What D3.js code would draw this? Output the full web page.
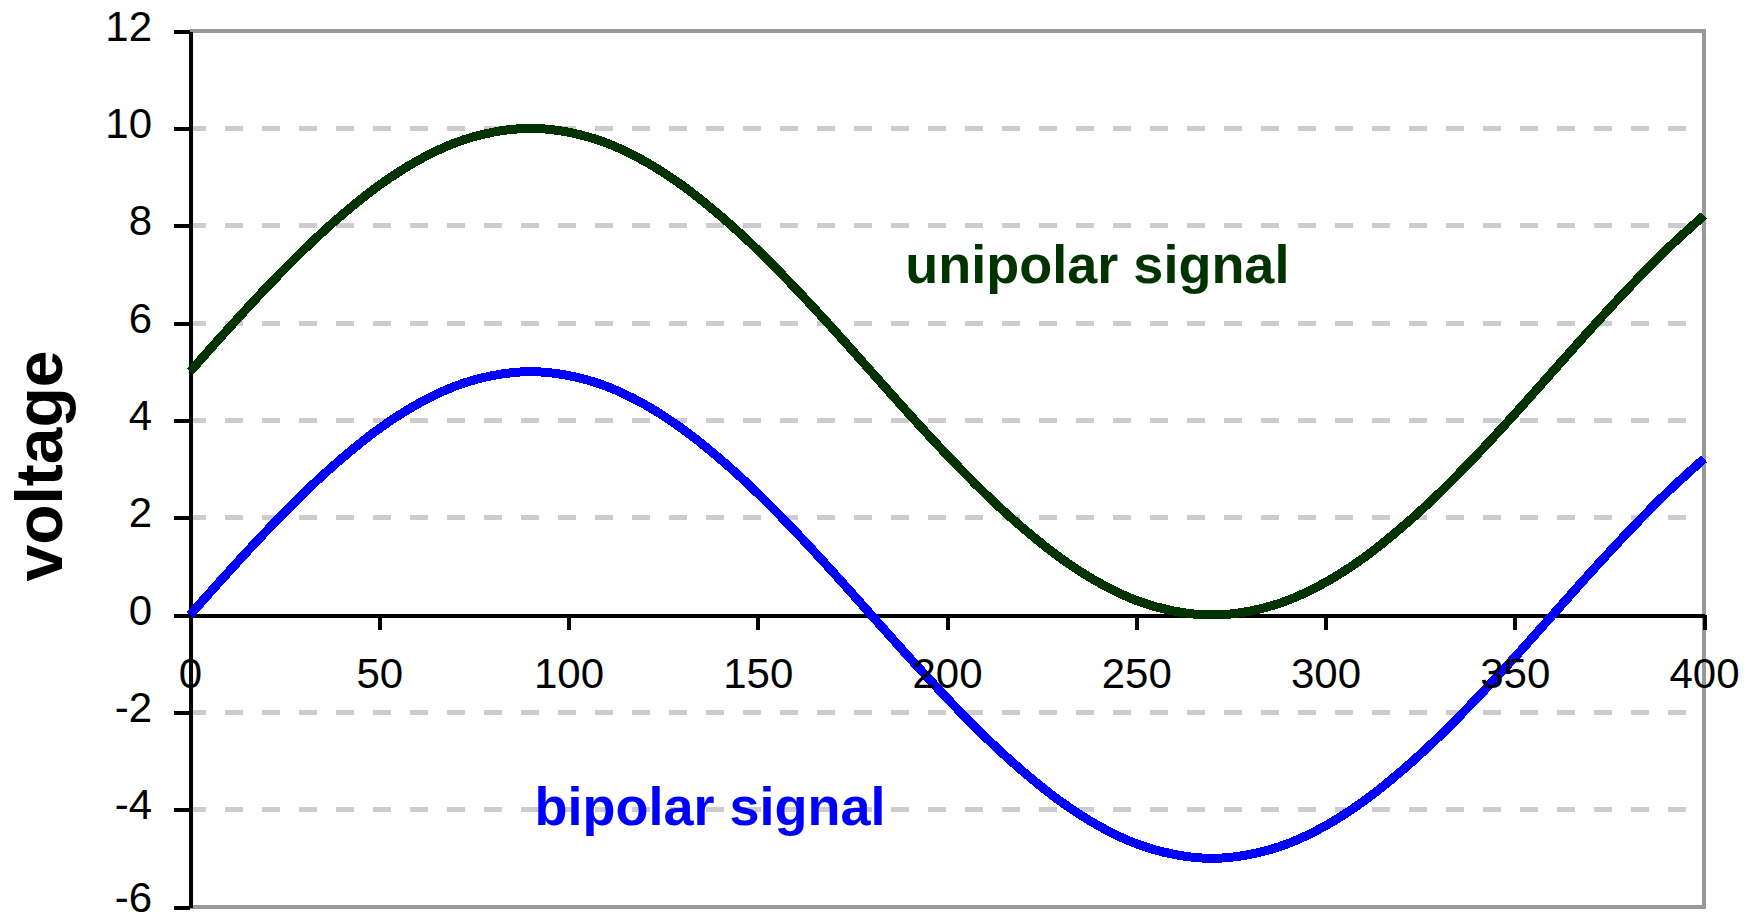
<!DOCTYPE html>
<html>
<head>
<meta charset="utf-8">
<script src="https://cdn.jsdelivr.net/npm/d3@7"></script>
<style>
  body { margin: 0; background: #fff; }
  text { font-family: "Liberation Sans", Arial, sans-serif; }
</style>
</head>
<body>
<svg width="1758" height="920"></svg>
<script>
// values, every 10 degrees
var angles = [0, 10, 20, 30, 40, 50, 60, 70, 80, 90,
    100, 110, 120, 130, 140, 150, 160, 170, 180, 190,
    200, 210, 220, 230, 240, 250, 260, 270, 280, 290,
    300, 310, 320, 330, 340, 350, 360, 370, 380, 390, 400];

var unipolar = [5, 5.87, 6.71, 7.5, 8.21, 8.83, 9.33, 9.7, 9.92, 10,
    9.92, 9.7, 9.33, 8.83, 8.21, 7.5, 6.71, 5.87, 5, 4.13,
    3.29, 2.5, 1.79, 1.17, 0.67, 0.3, 0.08, 0, 0.08, 0.3,
    0.67, 1.17, 1.79, 2.5, 3.29, 4.13, 5, 5.87, 6.71, 7.5, 8.21];

var bipolar = [0, 0.87, 1.71, 2.5, 3.21, 3.83, 4.33, 4.7, 4.92, 5,
    4.92, 4.7, 4.33, 3.83, 3.21, 2.5, 1.71, 0.87, 0, -0.87,
    -1.71, -2.5, -3.21, -3.83, -4.33, -4.7, -4.92, -5, -4.92, -4.7,
    -4.33, -3.83, -3.21, -2.5, -1.71, -0.87, 0, 0.87, 1.71, 2.5, 3.21];

var seriesNames = ["unipolar signal", "bipolar signal"];
var seriesColors = ["#003300", "#0000ff"];

var xTicks = [0, 50, 100, 150, 200, 250, 300, 350, 400];
var yTicks = [-6, -4, -2, 0, 2, 4, 6, 8, 10, 12];
var gridValues = [-4, -2, 2, 4, 6, 8, 10];

var svg = d3.select("svg");

var x = d3.scaleLinear()
    .domain([0, 400])
    .range([190, 1704]);

var y = d3.scaleLinear()
    .domain([-6, 12])
    .range([907, 31]);

// dashed grid
svg.append("g")
    .attr("class", "grid")
    .selectAll("line")
    .data(gridValues)
    .enter().append("line")
        .attr("x1", x(0))
        .attr("x2", x(400))
        .attr("y1", function(d) { return y(d); })
        .attr("y2", function(d) { return y(d); })
        .attr("stroke", "#cccccc")
        .attr("stroke-width", 5)
        .attr("stroke-dasharray", "18 19")
        .attr("stroke-dashoffset", 2)
        .attr("shape-rendering", "crispEdges");

// plot frame on top, right and bottom
svg.append("path")
    .attr("d", "M" + x(0) + "," + y(12) + "H" + x(400) + "V" + y(-6) + "H" + x(0))
    .attr("fill", "none")
    .attr("stroke", "#999999")
    .attr("stroke-width", 4)
    .attr("shape-rendering", "crispEdges");

// plain hyphen for negatives, like the original
var plain = function(d) { return String(d); };

var yAxis = d3.axisLeft(y)
    .tickValues(yTicks)
    .tickFormat(plain)
    .tickSize(16)
    .tickSizeOuter(0)
    .tickPadding(22);

var xAxis = d3.axisBottom(x)
    .tickValues(xTicks)
    .tickFormat(plain)
    .tickSize(15)
    .tickSizeOuter(0)
    .tickPadding(28);

var styleAxis = function(g) {
    g.attr("font-size", 42)
        .attr("font-family", "\"Liberation Sans\", Arial, sans-serif");
    g.selectAll("line, path")
        .attr("stroke", "#000")
        .attr("stroke-width", 4)
        .attr("shape-rendering", "crispEdges");
    g.selectAll("text").attr("fill", "#000");
};

// axis lines first, labels later so they sit above the curves
var yLines = svg.append("g")
    .attr("transform", "translate(" + x(0) + ",0)")
    .call(yAxis)
    .call(styleAxis);
yLines.selectAll("text").remove();

var xLines = svg.append("g")
    .attr("transform", "translate(0," + y(0) + ")")
    .call(xAxis)
    .call(styleAxis);
xLines.selectAll("text").remove();

var line = d3.line()
    .x(function(d) { return x(d[0]); })
    .y(function(d) { return y(d[1]); })
    .curve(d3.curveMonotoneX);

[unipolar, bipolar].forEach(function(values, i) {
    svg.append("path")
        .datum(angles.map(function(a, j) { return [a, values[j]]; }))
        .attr("fill", "none")
        .attr("stroke", seriesColors[i])
        .attr("stroke-width", 9)
        .attr("stroke-linejoin", "round")
        .attr("shape-rendering", "crispEdges")
        .attr("d", line);
});

var yLabels = svg.append("g")
    .attr("transform", "translate(" + x(0) + ",0)")
    .call(yAxis)
    .call(styleAxis);
yLabels.selectAll("line").remove();
yLabels.select(".domain").remove();
yLabels.selectAll("text")
    .attr("dy", function(d) { return d === -6 ? "0.1em" : "0.22em"; });

var xLabels = svg.append("g")
    .attr("transform", "translate(0," + y(0) + ")")
    .call(xAxis)
    .call(styleAxis);
xLabels.selectAll("line").remove();
xLabels.select(".domain").remove();

// y axis title
svg.append("text")
    .attr("transform", "translate(62,466) rotate(-90)")
    .attr("text-anchor", "middle")
    .attr("font-size", 66)
    .attr("font-weight", "bold")
    .attr("fill", "#000")
    .text("voltage");

// in-chart series labels
svg.append("text")
    .attr("x", x(189))
    .attr("y", y(6.82))
    .attr("font-size", 54)
    .attr("font-weight", "bold")
    .attr("fill", seriesColors[0])
    .text(seriesNames[0]);

svg.append("text")
    .attr("x", x(91))
    .attr("y", y(-4.31))
    .attr("font-size", 54)
    .attr("font-weight", "bold")
    .attr("fill", seriesColors[1])
    .text(seriesNames[1]);
</script>
</body>
</html>
